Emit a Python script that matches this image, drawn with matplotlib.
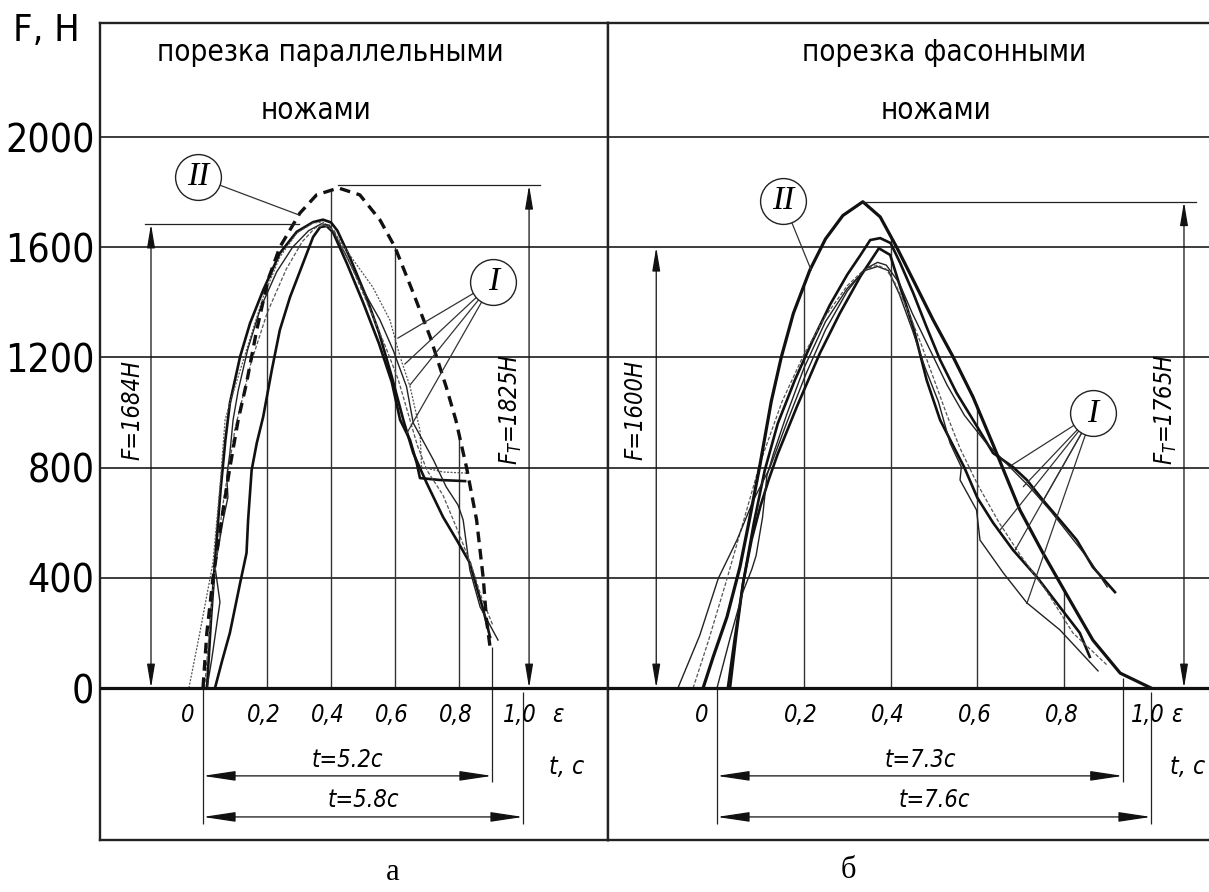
import matplotlib
matplotlib.use("Agg")
import matplotlib.pyplot as plt
import numpy as np
from matplotlib import font_manager

# ---- values: strain eps and cutting force F, N ----
# panel "а": cutting with parallel knives
a_II_eps = [0.0, 0.012, 0.031, 0.058, 0.084, 0.11, 0.136, 0.168, 0.203, 0.24, 0.303, 0.355, 0.423,
            0.49, 0.553, 0.60, 0.657, 0.71, 0.76, 0.79, 0.824, 0.855, 0.876, 0.886, 0.897]
a_II_F = [0, 200, 396, 610, 800, 973, 1107, 1300, 1481, 1600, 1724, 1790, 1815,
          1790, 1699, 1600, 1434, 1274, 1093, 973, 798, 610, 396, 247, 149]

a1_eps = [0.0375, 0.06, 0.084, 0.116, 0.136, 0.141, 0.152, 0.168, 0.188, 0.215, 0.24, 0.272, 0.313,
          0.344, 0.366, 0.386, 0.406, 0.45, 0.50, 0.55, 0.59, 0.616, 0.647, 0.668, 0.678, 0.74, 0.819]
a1_F = [0, 100, 200, 381, 490, 610, 791, 889, 984, 1154, 1299, 1419, 1543,
        1637, 1673, 1677, 1655, 1540, 1400, 1250, 1110, 973, 900, 816, 762, 755, 751]

a2_eps = [0.0125, 0.025, 0.04, 0.055, 0.07, 0.084, 0.116, 0.147, 0.188, 0.24, 0.293, 0.344, 0.375,
          0.40, 0.42, 0.46, 0.51, 0.55, 0.59, 0.626, 0.657, 0.699, 0.75, 0.793, 0.834, 0.855, 0.876, 0.897]
a2_F = [0, 250, 500, 720, 900, 1034, 1203, 1324, 1444, 1578, 1656, 1691, 1700,
        1690, 1660, 1560, 1420, 1290, 1130, 973, 853, 744, 621, 537, 454, 367, 283, 185]

a3_eps = [-0.044, -0.01, 0.031, 0.053, 0.069, 0.084, 0.136, 0.188, 0.24, 0.293, 0.344, 0.375, 0.40,
          0.47, 0.53, 0.584, 0.616, 0.647, 0.678, 0.683, 0.75, 0.824]
a3_F = [0, 200, 454, 730, 973, 1034, 1227, 1419, 1564, 1651, 1688, 1691, 1670,
        1553, 1456, 1336, 1202, 1094, 936, 802, 784, 780]

a4_eps = [0.0125, 0.027, 0.053, 0.0375, 0.063, 0.078, 0.074, 0.084, 0.094, 0.11, 0.14, 0.18, 0.23,
          0.28, 0.33, 0.37, 0.395, 0.449, 0.50, 0.553, 0.594, 0.636, 0.657, 0.72, 0.76, 0.797, 0.813,
          0.834, 0.866, 0.922]
a4_F = [0, 102, 312, 440, 610, 693, 766, 853, 973, 1080, 1230, 1380, 1510,
        1600, 1660, 1685, 1680, 1566, 1445, 1336, 1227, 1094, 962, 828, 730, 664, 610,
        428, 294, 174]

a5_eps = [0.005, 0.03, 0.06, 0.10, 0.15, 0.20, 0.26, 0.31, 0.35, 0.38, 0.41, 0.46, 0.52, 0.57,
          0.61, 0.64, 0.67, 0.70, 0.75, 0.80, 0.84, 0.87, 0.905]
a5_F = [0, 350, 650, 940, 1180, 1360, 1520, 1620, 1670, 1680, 1660, 1540, 1380, 1240,
        1120, 1000, 880, 790, 700, 560, 440, 330, 230]

# panel "б": cutting with shaped knives
b_II_eps = [-0.032, -0.009, 0.023, 0.053, 0.076, 0.099, 0.125, 0.148, 0.176, 0.214, 0.25, 0.29, 0.336,
            0.376, 0.414, 0.452, 0.498, 0.544, 0.59, 0.637, 0.698, 0.751, 0.813, 0.866, 0.929, 1.0]
b_II_F = [0, 112, 258, 440, 621, 810, 1040, 1200, 1360, 1517, 1630, 1715, 1765,
          1710, 1600, 1481, 1336, 1202, 1056, 880, 646, 490, 319, 174, 54, 0]

b1_eps = [0.025, 0.04, 0.06, 0.085, 0.11, 0.14, 0.18, 0.22, 0.26, 0.30, 0.33, 0.353, 0.376, 0.40,
          0.422, 0.452, 0.483, 0.514, 0.552, 0.59, 0.636, 0.682, 0.714, 0.751, 0.79, 0.829, 0.866, 0.917]
b1_F = [0, 170, 380, 600, 790, 960, 1120, 1260, 1390, 1500, 1570, 1626, 1633, 1615,
        1543, 1434, 1310, 1191, 1071, 973, 853, 802, 755, 682, 610, 537, 439, 348]

b2_eps = [0.03, 0.045, 0.06, 0.08, 0.10, 0.12, 0.14, 0.184, 0.237, 0.283, 0.33, 0.373, 0.399,
          0.422, 0.452, 0.483, 0.514, 0.544, 0.57, 0.60, 0.636, 0.682, 0.737, 0.79, 0.836, 0.859]
b2_F = [0, 200, 380, 540, 660, 760, 850, 1021, 1215, 1360, 1493, 1596, 1572,
        1456, 1311, 1118, 973, 880, 800, 690, 600, 501, 403, 294, 200, 113]

b3_eps = [0.0, 0.03, 0.06, 0.08, 0.09, 0.105, 0.115, 0.13, 0.16, 0.20, 0.25, 0.30, 0.34, 0.37,
          0.395, 0.42, 0.45, 0.48, 0.51, 0.537, 0.563, 0.56, 0.598, 0.606, 0.66, 0.714, 0.79, 0.878]
b3_F = [0, 180, 350, 430, 480, 620, 770, 850, 990, 1160, 1330, 1450, 1515, 1530,
        1515, 1430, 1300, 1160, 1040, 889, 802, 755, 646, 537, 417, 309, 211, 62]

b4_eps = [-0.055, -0.02, 0.02, 0.06, 0.10, 0.15, 0.20, 0.25, 0.30, 0.34, 0.37, 0.39, 0.41, 0.44,
          0.47, 0.50, 0.53, 0.56, 0.60, 0.65, 0.70, 0.76, 0.82, 0.899]
b4_F = [0, 170, 380, 600, 820, 1040, 1210, 1350, 1460, 1520, 1535, 1520, 1470, 1370,
        1250, 1120, 990, 870, 740, 600, 480, 350, 200, 83]

b5_eps = [-0.09, -0.04, 0.003, 0.046, 0.084, 0.122, 0.16, 0.205, 0.25, 0.30, 0.34, 0.37, 0.39,
          0.42, 0.45, 0.49, 0.53, 0.57, 0.62, 0.67, 0.72, 0.77, 0.82, 0.86, 0.899]
b5_F = [0, 190, 398, 537, 682, 800, 960, 1140, 1300, 1440, 1520, 1545, 1535,
        1470, 1360, 1230, 1100, 990, 890, 810, 730, 640, 540, 460, 367]

F_ticks = [0, 400, 800, 1200, 1600, 2000]
eps_ticks = [0, 0.2, 0.4, 0.6, 0.8, 1.0]
eps_labels = ['0', '0,2', '0,4', '0,6', '0,8', '1,0']
proj_eps = [0.2, 0.4, 0.6, 0.8]

F_meas = [1684, 1600]        # measured max force
F_theor = [1825, 1765]       # theoretical max force
t_short = [5.2, 7.3]         # cutting time, s
t_long = [5.8, 7.6]
t_short_eps = [0.903, 0.935]  # where the short time span ends on the eps scale
titles = [('порезка параллельными', 'ножами'), ('порезка фасонными', 'ножами')]

# ---- fonts ----
names = {f.name for f in font_manager.fontManager.ttflist}
cond = any(f.name == 'DejaVu Sans' and 'condensed' in str(f.stretch) for f in font_manager.fontManager.ttflist)
if 'Liberation Sans Narrow' in names:
    FONT, STRETCH, k = 'Liberation Sans Narrow', 'normal', 1.0
elif cond:
    FONT, STRETCH, k = 'DejaVu Sans', 'condensed', 0.85
else:
    FONT, STRETCH, k = 'DejaVu Sans', 'normal', 0.74
plt.rcParams['font.family'] = [FONT, 'DejaVu Sans']
plt.rcParams['font.stretch'] = STRETCH
plt.rcParams['mathtext.fontset'] = 'custom'
plt.rcParams['mathtext.it'] = FONT + ':italic'
plt.rcParams['mathtext.rm'] = FONT
SERIF = 'Liberation Serif'

W, H = 1209, 892
fig = plt.figure(figsize=(W / 100, H / 100), dpi=100)


def box(l, t, r, b):
    return [l / W, 1 - b / H, (r - l) / W, (b - t) / H]


# drawing scale: F = 0 at y = 688 px, 0.2755 px per newton
Y0, KY = 688, 0.2755
ylim = ((Y0 - 840) / KY, (Y0 - 23) / KY)

ax1 = fig.add_axes(box(100, 23, 608, 840))
ax1.set_xlim((100 - 203) / 320, (608 - 203) / 320)
ax2 = fig.add_axes(box(608, 23, 1216, 840))
ax2.set_xlim((608 - 717) / 434, (1216 - 717) / 434)

thick = dict(color='#111111', lw=1.9)
thin = dict(color='#222222', lw=1.0)
dotted = dict(color='#555555', lw=0.9, ls=(0, (1.6, 1.2)))
dashed = dict(color='#555555', lw=0.9, ls=(0, (3, 1.5)))

panels = [
    dict(ax=ax1,
         curves=[(a1_eps, a1_F, thick), (a2_eps, a2_F, thick), (a3_eps, a3_F, dotted),
                 (a4_eps, a4_F, thin), (a5_eps, a5_F, dashed)],
         II=(a_II_eps, a_II_F), II_style=dict(color='#111111', lw=2.4, ls=(0, (3.2, 2.0))),
         F_x=-0.1625, F_ext=(-0.18, 0.30), F_lab=-0.219,
         FT_x=1.019, FT_ext=(0.423, 1.053), FT_lab=0.9625,
         title_x=(0.397, 0.353), eps_sym=(1.109, 'center'), tc=(1.1375, 'center'),
         I_c=(0.907, 1475), I_pts=[(0.609, 1270), (0.631, 1176), (0.647, 1100), (0.6375, 926)],
         II_c=(-0.0156, 1855), II_pt=(0.30, 1717), ext_short_top=150),
    dict(ax=ax2,
         curves=[(b1_eps, b1_F, thick), (b2_eps, b2_F, thick), (b3_eps, b3_F, thin),
                 (b4_eps, b4_F, dashed), (b5_eps, b5_F, thin)],
         II=(b_II_eps, b_II_F), II_style=dict(color='#111111', lw=2.3),
         F_x=-0.14, F_ext=None, F_lab=-0.187,
         FT_x=1.076, FT_ext=(0.336, 1.104), FT_lab=1.035,
         title_x=(0.523, 0.505), eps_sym=(1.06, 'center'), tc=(1.124, 'right'),
         I_c=(0.866, 997), I_pts=[(0.679, 809), (0.706, 731), (0.752, 682), (0.652, 573),
                                  (0.687, 501), (0.714, 307)],
         II_c=(0.152, 1768), II_pt=(0.217, 1517), ext_short_top=36),
]


def dim(ax, p1, p2, scale, hl):
    ax.annotate('', xy=p2, xytext=p1,
                arrowprops=dict(arrowstyle=f'<|-|>,head_length={hl},head_width=0.15',
                                mutation_scale=scale, lw=0.9, color='#111111',
                                shrinkA=0, shrinkB=0))


for i, p in enumerate(panels):
    ax = p['ax']
    ax.set_ylim(*ylim)
    ax.set_xticks([])
    for s in ax.spines.values():
        s.set_linewidth(1.7)
        s.set_color('#222222')
    # grid
    for f in F_ticks[1:]:
        ax.axhline(f, color='#3c3c3c', lw=1.4, zorder=1)
    ax.axhline(0, color='#111111', lw=2.3, zorder=3)
    II_eps, II_F = p['II']
    tops = np.interp(proj_eps, II_eps, II_F)
    ax.vlines(proj_eps, 0, tops, color='#333333', lw=1.0, zorder=1)

    # curves
    for e, f, st in p['curves']:
        ax.plot(e, f, zorder=2, solid_joinstyle='round', **st)
    ax.plot(II_eps, II_F, zorder=2, **p['II_style'])

    # force dimensions
    fm, ft = F_meas[i], F_theor[i]
    dim(ax, (p['F_x'], 0), (p['F_x'], fm), 16, 0.9)
    dim(ax, (p['FT_x'], 0), (p['FT_x'], ft), 16, 0.9)
    if p['F_ext']:
        ax.plot(p['F_ext'], [fm, fm], color='#222222', lw=0.9)
    ax.plot(p['FT_ext'], [ft, ft], color='#222222', lw=0.9)
    ax.text(p['F_lab'], 1010, f'F={fm}H', rotation=90, style='italic', size=20 * k,
            ha='center', va='center')
    ax.text(p['FT_lab'], 1010, rf'$F_T$={ft}H', rotation=90, style='italic', size=20 * k,
            ha='center', va='center')

    # time dimensions
    te = t_short_eps[i]
    ax.vlines([0, 1.0], [0, -15], -494, color='#222222', lw=0.9)
    ax.vlines(te, p['ext_short_top'], -341, color='#222222', lw=0.9)
    dim(ax, (0, -319), (te, -319), 20, 1.0)
    dim(ax, (0, -468), (1.0, -468), 20, 1.0)
    ax.text(te / 2, -261, f't={t_short[i]}с', style='italic', size=20 * k, ha='center', va='center')
    ax.text(0.5, -407, f't={t_long[i]}с', style='italic', size=20 * k, ha='center', va='center')

    # eps scale labels
    for e, lab in zip(eps_ticks, eps_labels):
        off = -11 if e == 0 else -2
        ax.annotate(lab, (e, -98), xytext=(off, 0), textcoords='offset points',
                    style='italic', size=20 * k, ha='center', va='center')
    ax.text(p['eps_sym'][0], -98, 'ε', style='italic', size=20 * k, ha=p['eps_sym'][1], va='center')
    ax.text(p['tc'][0], -287, 't, с', style='italic', size=21 * k, ha=p['tc'][1], va='center')

    # titles
    ax.text(p['title_x'][0], 2305, titles[i][0], size=25 * k, ha='center', va='center')
    ax.text(p['title_x'][1], 2098, titles[i][1], size=25 * k, ha='center', va='center')

    # callouts
    cx, cy = p['I_c']
    for ex, ey in p['I_pts']:
        ax.plot([cx, ex], [cy, ey], color='#333333', lw=0.9, zorder=4)
    ax.plot(cx, cy, 'o', ms=33, mfc='white', mec='#222222', mew=1.0, zorder=5)
    ax.text(cx, cy, 'I', family=SERIF, style='italic', size=24, ha='center', va='center', zorder=6)
    cx, cy = p['II_c']
    ax.plot([cx, p['II_pt'][0]], [cy, p['II_pt'][1]], color='#333333', lw=0.9, zorder=4)
    ax.plot(cx, cy, 'o', ms=33, mfc='white', mec='#222222', mew=1.0, zorder=5)
    ax.text(cx, cy, 'II', family=SERIF, style='italic', size=24, ha='center', va='center', zorder=6)

ax1.set_yticks(F_ticks)
ax1.set_yticklabels([str(v) for v in F_ticks], fontsize=33 * k)
ax1.tick_params(axis='y', length=0, pad=4)
ax2.set_yticks([])

fig.text(13 / W, 1 - 31 / H, 'F, Н', size=32 * k, ha='left', va='center')
fig.text(393 / W, 1 - 873 / H, 'а', family=SERIF, size=22, ha='center', va='center')
fig.text(848 / W, 1 - 871 / H, 'б', family=SERIF, size=22, ha='center', va='center')

fig.savefig('out.png', dpi=100)
